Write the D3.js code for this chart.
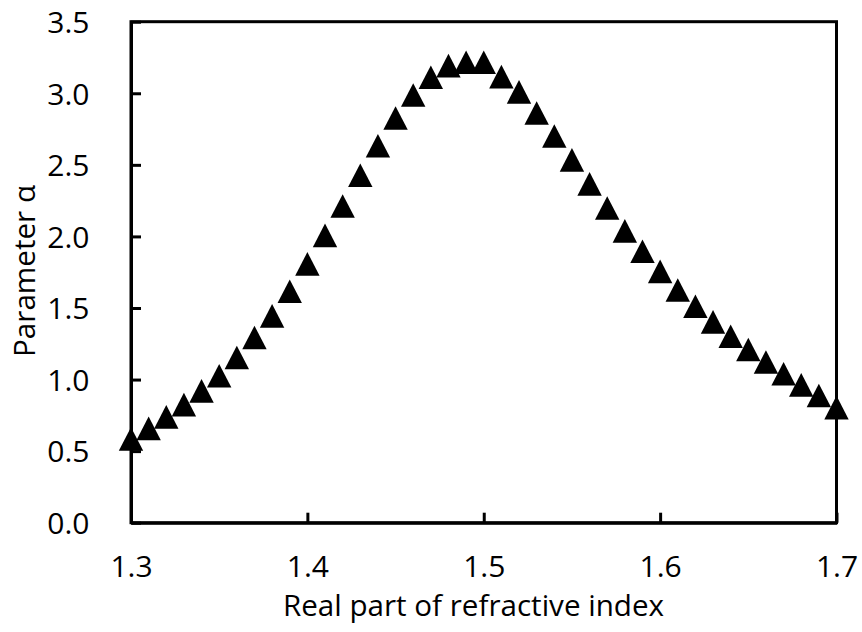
<!DOCTYPE html>
<html>
<head>
<meta charset="utf-8">
<script src="https://cdn.jsdelivr.net/npm/d3@7"></script>
<style>
  html, body { margin: 0; padding: 0; background: #fff; }
  svg { display: block; }
  text { font-family: "Open Sans", "Noto Sans", sans-serif; fill: #000; }
</style>
</head>
<body>
<svg id="chart" width="862" height="632"></svg>
<script>
// ---- data ----
const refractiveIndex = [
  1.30, 1.31, 1.32, 1.33, 1.34, 1.35, 1.36, 1.37, 1.38, 1.39,
  1.40, 1.41, 1.42, 1.43, 1.44, 1.45, 1.46, 1.47, 1.48, 1.49,
  1.50, 1.51, 1.52, 1.53, 1.54, 1.55, 1.56, 1.57, 1.58, 1.59,
  1.60, 1.61, 1.62, 1.63, 1.64, 1.65, 1.66, 1.67, 1.68, 1.69, 1.70
];
const alphaValues = [
  0.585, 0.659, 0.739, 0.825, 0.921, 1.027, 1.154, 1.294, 1.445, 1.617,
  1.808, 2.007, 2.212, 2.427, 2.633, 2.827, 2.988, 3.112, 3.193, 3.217,
  3.217, 3.116, 3.010, 2.862, 2.701, 2.535, 2.367, 2.198, 2.039, 1.896,
  1.756, 1.626, 1.512, 1.403, 1.303, 1.210, 1.123, 1.041, 0.963, 0.889, 0.804
];
const xTicks = [1.3, 1.4, 1.5, 1.6, 1.7];
const yTicks = [0.0, 0.5, 1.0, 1.5, 2.0, 2.5, 3.0, 3.5];
const xTitle = "Real part of refractive index";
const yTitle = "Parameter α";

// ---- layout ----
const svg = d3.select("#chart");
const pLeft = 131, pRight = 836.5, pTop = 21.7, pBottom = 522.7;
const x = d3.scaleLinear().domain([1.3, 1.7]).range([pLeft, pRight]);
const y = d3.scaleLinear().domain([0, 3.5]).range([pBottom, pTop]);
const lw = 3;
const fs = 30;

// frame
svg.append("rect")
  .attr("x", pLeft).attr("y", pTop)
  .attr("width", pRight - pLeft).attr("height", pBottom - pTop)
  .attr("fill", "none").attr("stroke", "#000").attr("stroke-width", lw);

// x axis (ticks inward)
const xAxis = d3.axisBottom(x).tickValues(xTicks).tickSizeInner(-10).tickSizeOuter(0)
  .tickFormat(d3.format(".1f"));
const gx = svg.append("g").attr("transform", `translate(0,${pBottom})`).call(xAxis);
gx.select(".domain").attr("stroke", "#000").attr("stroke-width", lw);
gx.selectAll(".tick line").attr("stroke", "#000").attr("stroke-width", lw);
gx.selectAll(".tick text")
  .attr("y", 54).attr("dy", null)
  .style("font-family", "'Open Sans', sans-serif")
  .style("font-size", fs + "px").attr("fill", "#000");

// y axis (ticks inward)
const yAxis = d3.axisLeft(y).tickValues(yTicks).tickSizeInner(-10).tickSizeOuter(0)
  .tickFormat(d3.format(".1f"));
const gy = svg.append("g").attr("transform", `translate(${pLeft},0)`).call(yAxis);
gy.select(".domain").attr("stroke", "#000").attr("stroke-width", lw);
gy.selectAll(".tick line").attr("stroke", "#000").attr("stroke-width", lw);
gy.selectAll(".tick text")
  .attr("x", -41.5).attr("dy", "0.36em")
  .style("font-family", "'Open Sans', sans-serif")
  .style("font-size", fs + "px").attr("fill", "#000");

// axis titles
svg.append("text")
  .attr("x", 473.5).attr("y", 616)
  .attr("text-anchor", "middle")
  .style("font-size", fs + "px")
  .attr("textLength", 381).attr("lengthAdjust", "spacingAndGlyphs")
  .text(xTitle);

svg.append("text")
  .attr("transform", `translate(34.5,271) rotate(-90)`)
  .attr("text-anchor", "middle")
  .style("font-size", fs + "px")
  .attr("textLength", 172).attr("lengthAdjust", "spacingAndGlyphs")
  .text(yTitle);

// markers: filled triangles
const tri = "M0,-11.8 L12.2,11.8 L-12.2,11.8 Z";
const data = refractiveIndex.map((v, i) => ({ n: v, a: alphaValues[i] }));
svg.append("g").selectAll("path")
  .data(data)
  .join("path")
  .attr("d", tri)
  .attr("transform", d => `translate(${x(d.n)},${y(d.a)})`)
  .attr("fill", "#000");
</script>
</body>
</html>
